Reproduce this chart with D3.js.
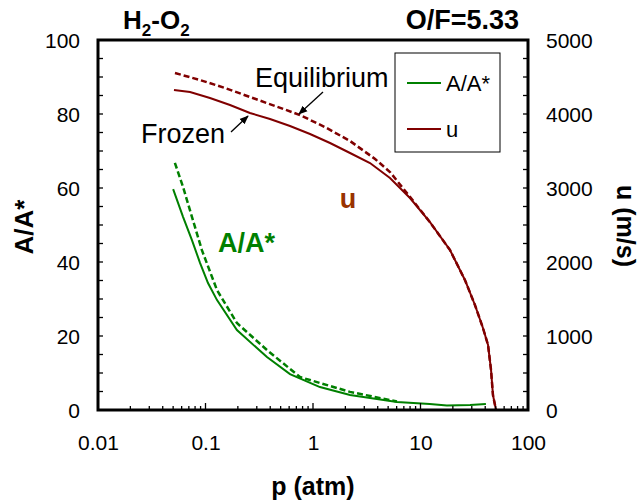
<!DOCTYPE html>
<html>
<head>
<meta charset="utf-8">
<script src="https://cdn.jsdelivr.net/npm/d3@7"></script>
<style>
  body { margin: 0; background: #fff; }
  text { font-family: "Liberation Sans", Arial, sans-serif; }
</style>
</head>
<body>
<svg id="chart" width="639" height="500"></svg>
<script>
// pressure (atm) vs area ratio A/A* and velocity u
const areaFrozenP = [0.05, 0.0618, 0.0748, 0.0891, 0.1055, 0.128, 0.196, 0.373, 0.611, 1.16, 2.21, 6.04, 12.2, 17.6, 28.9, 40.6]
const areaFrozen  = [59.7, 52.2, 45.9, 39.7, 34.3, 29.7, 21.6, 14.3, 9.7, 6.2, 4.05, 2.16, 1.62, 1.22, 1.35, 1.62]
const areaEqP = [0.0519, 0.0618, 0.0748, 0.0926, 0.128, 0.196, 0.373, 0.757, 2.21, 6.04]
const areaEq  = [66.8, 60.3, 52.2, 43.2, 32.4, 23.5, 16.2, 8.9, 4.9, 2.3]

const velFrozenP = [0.0509, 0.0718, 0.110, 0.169, 0.259, 0.398, 0.611, 0.938, 1.44, 2.21, 3.39, 5.20, 7.98, 12.2, 18.8, 25.9, 32.1, 38.1, 42.5, 45.3, 47.2, 50.4]
const velFrozen  = [4324, 4297, 4216, 4122, 4014, 3932, 3838, 3730, 3608, 3473, 3338, 3135, 2865, 2541, 2162, 1757, 1419, 1108, 878, 541, 203, 0]
const velEqP = [0.052, 0.089, 0.152, 0.259, 0.444, 0.757, 1.29, 2.21, 3.78, 5.20, 7.98, 12.2, 18.8, 25.9, 32.1, 38.1, 42.5, 45.3, 47.2, 50.4]
const velEq  = [4554, 4459, 4351, 4230, 4108, 3986, 3824, 3635, 3392, 3216, 2880, 2541, 2162, 1757, 1419, 1108, 878, 541, 203, 0]

const xTicks = [0.01, 0.1, 1, 10, 100]
const leftTicks = [0, 20, 40, 60, 80, 100]
const rightTicks = [0, 1000, 2000, 3000, 4000, 5000]

const green = "#008000"
const red = "#800000"

const svg = d3.select("#chart")
const plotLeft = 98, plotRight = 528, plotTop = 40, plotBottom = 410

const x = d3.scaleLog().domain([0.01, 100]).range([plotLeft, plotRight])
const yA = d3.scaleLinear().domain([0, 100]).range([plotBottom, plotTop])
const yU = d3.scaleLinear().domain([0, 5000]).range([plotBottom, plotTop])

svg.append("defs").append("marker")
    .attr("id", "arrow")
    .attr("viewBox", "0 0 10 10")
    .attr("refX", 9).attr("refY", 5)
    .attr("markerWidth", 7).attr("markerHeight", 7)
    .attr("orient", "auto")
    .append("path").attr("d", "M0,1 L10,5 L0,9 z").attr("fill", "black")

// curves
const lineA = (px, vals) => d3.line().x((d, i) => x(px[i])).y((d) => yA(d))(vals)
const lineU = (px, vals) => d3.line().x((d, i) => x(px[i])).y((d) => yU(d))(vals)

svg.append("path").attr("d", lineA(areaEqP, areaEq))
    .attr("fill", "none").attr("stroke", green).attr("stroke-width", 2.5)
    .attr("stroke-dasharray", "6,3")
svg.append("path").attr("d", lineA(areaFrozenP, areaFrozen))
    .attr("fill", "none").attr("stroke", green).attr("stroke-width", 2)
svg.append("path").attr("d", lineU(velEqP, velEq))
    .attr("fill", "none").attr("stroke", red).attr("stroke-width", 2.5)
    .attr("stroke-dasharray", "6,3")
svg.append("path").attr("d", lineU(velFrozenP, velFrozen))
    .attr("fill", "none").attr("stroke", red).attr("stroke-width", 2)

// axes
const xAxis = d3.axisBottom(x).tickValues(xTicks).tickSize(0).tickFormat(d3.format("~g"))
const gx = svg.append("g").attr("transform", `translate(0,${plotBottom})`).call(xAxis)
gx.select(".domain").remove()
gx.selectAll("text").attr("dy", 0).attr("y", 40).style("font-size", "21px").attr("fill", "black")

const minorX = []
for (let dec = 0.01; dec < 100; dec *= 10) {
    for (let k = 1; k < 10; k++) minorX.push(dec * k)
}
minorX.push(100)
svg.selectAll(".xminor").data(minorX).enter().append("line")
    .attr("x1", (d) => x(d)).attr("x2", (d) => x(d))
    .attr("y1", plotBottom).attr("y2", (d) => plotBottom - (xTicks.some((t) => Math.abs(t - d) / t < 1e-6) ? 7 : 4))
    .attr("stroke", "black").attr("stroke-width", 1.3)

const gl = svg.append("g").attr("transform", `translate(${plotLeft},0)`)
    .call(d3.axisLeft(yA).tickValues(leftTicks).tickSize(0))
gl.select(".domain").remove()
gl.selectAll("text").attr("x", -18).attr("dy", "0.35em").style("font-size", "21px").attr("fill", "black")
svg.selectAll(".ylminor").data(d3.range(0, 101, 5)).enter().append("line")
    .attr("x1", plotLeft).attr("x2", plotLeft + 5)
    .attr("y1", (d) => yA(d)).attr("y2", (d) => yA(d))
    .attr("stroke", "black").attr("stroke-width", 1.3)

const gr = svg.append("g").attr("transform", `translate(${plotRight},0)`)
    .call(d3.axisRight(yU).tickValues(rightTicks).tickSize(0).tickFormat(d3.format("d")))
gr.select(".domain").remove()
gr.selectAll("text").attr("x", 18).attr("dy", "0.35em").style("font-size", "21px").attr("fill", "black")
svg.selectAll(".yrminor").data(d3.range(0, 5001, 250)).enter().append("line")
    .attr("x1", plotRight).attr("x2", plotRight - 5)
    .attr("y1", (d) => yU(d)).attr("y2", (d) => yU(d))
    .attr("stroke", "black").attr("stroke-width", 1.3)

// frame
svg.append("rect").attr("x", plotLeft).attr("y", plotTop)
    .attr("width", plotRight - plotLeft).attr("height", plotBottom - plotTop)
    .attr("fill", "none").attr("stroke", "black").attr("stroke-width", 3)

// axis titles
svg.append("text").attr("x", 313).attr("y", 495).attr("text-anchor", "middle")
    .style("font-size", "25px").style("font-weight", "bold").text("p (atm)")
svg.append("text").attr("transform", "translate(33,227) rotate(-90)").attr("text-anchor", "middle")
    .style("font-size", "26px").style("font-weight", "bold").text("A/A*")
svg.append("text").attr("transform", "translate(617,226) rotate(90)").attr("text-anchor", "middle")
    .style("font-size", "25px").style("font-weight", "bold").text("u (m/s)")

// titles
const t1 = svg.append("text").attr("x", 123).attr("y", 29)
    .style("font-size", "26px").style("font-weight", "bold")
t1.append("tspan").text("H")
t1.append("tspan").attr("dy", 7).style("font-size", "17px").text("2")
t1.append("tspan").attr("dy", -7).text("-O")
t1.append("tspan").attr("dy", 7).style("font-size", "17px").text("2")
svg.append("text").attr("x", 519).attr("y", 29).attr("text-anchor", "end")
    .style("font-size", "27px").style("font-weight", "bold").text("O/F=5.33")

// annotations
svg.append("text").attr("x", 255).attr("y", 87).style("font-size", "27px").text("Equilibrium")
svg.append("line").attr("x1", 323).attr("y1", 92).attr("x2", 299).attr("y2", 114)
    .attr("stroke", "black").attr("stroke-width", 1.3).attr("marker-end", "url(#arrow)")
svg.append("text").attr("x", 141).attr("y", 143).style("font-size", "27px").text("Frozen")
svg.append("line").attr("x1", 231).attr("y1", 132).attr("x2", 248).attr("y2", 116)
    .attr("stroke", "black").attr("stroke-width", 1.3).attr("marker-end", "url(#arrow)")

svg.append("text").attr("x", 348).attr("y", 208).attr("text-anchor", "middle")
    .style("font-size", "27px").style("font-weight", "bold").attr("fill", "#993300").text("u")
svg.append("text").attr("x", 218).attr("y", 252)
    .style("font-size", "27px").style("font-weight", "bold").attr("fill", green).text("A/A*")

// legend
const legend = svg.append("g")
legend.append("rect").attr("x", 395).attr("y", 53).attr("width", 105).attr("height", 99)
    .attr("fill", "white").attr("stroke", "black").attr("stroke-width", 1)
const legendItems = [["A/A*", green, 83], ["u", red, 129]]
legendItems.forEach(([label, color, ly]) => {
    legend.append("line").attr("x1", 407).attr("x2", 441).attr("y1", ly).attr("y2", ly)
        .attr("stroke", color).attr("stroke-width", 2)
    legend.append("text").attr("x", 446).attr("y", ly).attr("dy", "0.35em")
        .style("font-size", "22px").text(label)
})
</script>
</body>
</html>
